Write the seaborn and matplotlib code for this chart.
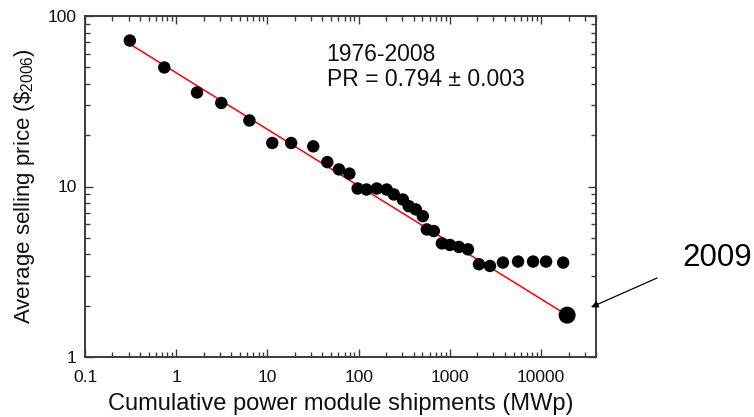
import numpy as np
import pandas as pd
import seaborn as sns
import matplotlib.pyplot as plt
from matplotlib.ticker import FixedLocator, LogLocator, NullFormatter

# cumulative shipments (MWp) and average selling price ($2006), 1976-2008
shipments = [0.31, 0.74, 1.69, 3.12, 6.34, 11.3, 18.2, 31.8, 45.3, 60.8, 79.1,
             97.5, 122, 158, 203, 243, 305, 354, 423, 505, 559, 667,
             817, 1000, 1256, 1578, 2083, 2752, 3820, 5590, 8170, 11350, 17450]
price = [71.8, 49.9, 35.6, 30.9, 24.4, 18.0, 18.0, 17.2, 13.9, 12.6, 11.9,
         9.73, 9.6, 9.73, 9.6, 8.98, 8.39, 7.67, 7.34, 6.70, 5.60, 5.48,
         4.64, 4.54, 4.42, 4.28, 3.50, 3.42, 3.58, 3.63, 3.63, 3.63, 3.58]

# 2009 point (on the experience curve)
point_2009_x = [19300]
point_2009_y = [1.76]

# fitted experience curve end points
fit_x = [0.31, 19300]
fit_y = [68.5, 1.76]

xtick_vals = [0.1, 1, 10, 100, 1000, 10000]
xtick_labels = ["0.1", "1", "10", "100", "1000", "10000"]
ytick_vals = [1, 10, 100]
ytick_labels = ["1", "10", "100"]

df = pd.DataFrame({"shipments": shipments, "price": price})
df_fit = pd.DataFrame({"x": fit_x, "y": fit_y})
df_2009 = pd.DataFrame({"x": point_2009_x, "y": point_2009_y})

sns.set_style("ticks")
plt.rcParams['font.family'] = ['Liberation Sans', 'DejaVu Sans']
plt.rcParams['mathtext.fontset'] = 'custom'
plt.rcParams['mathtext.rm'] = 'Liberation Sans'
plt.rcParams['mathtext.it'] = 'Liberation Sans'

fig = plt.figure(figsize=(7.54, 4.17), dpi=100)
ax = fig.add_axes([85 / 754, 1 - 357 / 417, (596 - 85) / 754, (357 - 16) / 417])

sns.lineplot(data=df_fit, x="x", y="y", color="red", linewidth=1.1, ax=ax, zorder=2)
sns.scatterplot(data=df, x="shipments", y="price", color="black", s=80,
                edgecolor="none", ax=ax, zorder=3)
sns.scatterplot(data=df_2009, x="x", y="y", color="black", s=150,
                edgecolor="none", ax=ax, zorder=3)

ax.set_xscale("log")
ax.set_yscale("log")
ax.set_xlim(0.1, 40000)
ax.set_ylim(1, 100)

ax.xaxis.set_major_locator(FixedLocator(xtick_vals))
ax.set_xticklabels(xtick_labels)
ax.yaxis.set_major_locator(FixedLocator(ytick_vals))
ax.set_yticklabels(ytick_labels)
ax.xaxis.set_minor_locator(LogLocator(base=10, subs=np.arange(2, 10)))
ax.yaxis.set_minor_locator(LogLocator(base=10, subs=np.arange(2, 10)))
ax.xaxis.set_minor_formatter(NullFormatter())
ax.yaxis.set_minor_formatter(NullFormatter())

spine_col = "#3c3c3c"
for sp in ax.spines.values():
    sp.set_visible(True)
    sp.set_color(spine_col)
    sp.set_linewidth(1.4)
ax.tick_params(which="both", direction="in", top=True, right=True,
               color=spine_col, width=1.0, labelsize=12.5, labelcolor="#111111")
ax.tick_params(which="major", length=6)
ax.tick_params(axis="x", which="major", pad=9)
ax.tick_params(axis="y", which="major", pad=6)
ax.tick_params(which="minor", length=3.5)

ax.set_xlabel("Cumulative power module shipments (MWp)", fontsize=17,
              color="#111111", labelpad=6)
ax.set_ylabel(r"Average selling price (\$$_{\mathrm{2006}}$)", fontsize=16,
              color="#111111", labelpad=8)

ax.text(0.473, 0.92, "1976-2008\nPR = 0.794 \u00b1 0.003", transform=ax.transAxes,
        fontsize=16.5, va="top", ha="left", linespacing=1.1, color="#111111")

# annotation for 2009
ax.annotate("", xy=(35400, 1.96), xycoords="data",
            xytext=(657, 417 - 278), textcoords="figure pixels",
            arrowprops=dict(arrowstyle="-|>", color="black", lw=0.9,
                            mutation_scale=10, shrinkA=0, shrinkB=0),
            annotation_clip=False)
fig.text(682 / 754, 1 - 258 / 417, "2009", fontsize=22.5, ha="left", va="center",
         color="black")

plt.savefig("out.png", dpi=100)
